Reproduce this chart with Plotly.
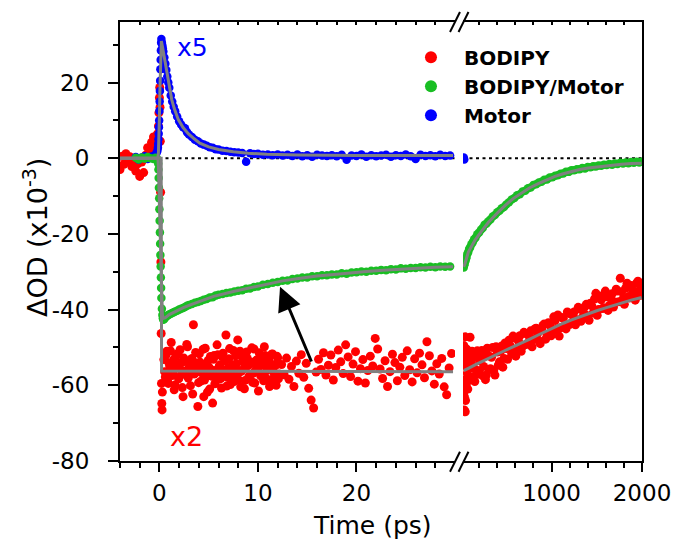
import plotly.graph_objects as go

# ---------------- transient absorption kinetics ----------------
# short-delay window (ps), shared by Motor and BODIPY/Motor
t_short = [-2.4, -2.1, -1.8, -1.5, -1.2, -0.9, -0.6, -0.4, -0.3, -0.2,
           -0.15, -0.125, -0.1, -0.075, -0.05, -0.025, 0.0, 0.025, 0.05, 0.075,
           0.1, 0.125, 0.15, 0.175, 0.2, 0.25, 0.3, 0.35, 0.4, 0.5,
           0.6, 0.7, 0.8, 0.9, 1.0, 1.15, 1.3, 1.45, 1.6, 1.8,
           2.0, 2.2, 2.4, 2.6, 2.8, 3.0, 3.3, 3.6, 3.9, 4.2,
           4.5, 4.8, 5.1, 5.4, 5.7, 6.0, 6.4, 6.8, 7.2, 7.6,
           8.0, 8.4, 8.8, 9.2, 9.6, 10.0, 10.5, 11.0, 11.5, 12.0,
           12.5, 13.0, 13.5, 14.0, 14.5, 15.0, 15.5, 16.0, 16.5, 17.0,
           17.5, 18.0, 18.5, 19.0, 19.5, 20.0, 20.5, 21.0, 21.5, 22.0,
           22.5, 23.0, 23.5, 24.0, 24.5, 25.0, 25.5, 26.0, 26.5, 27.0,
           27.5, 28.0, 28.5, 29.0, 29.5]

motor_short = [0.3, -0.4, 0.2, 0.5, -0.2, 0.4, 0.6, 0.9, 1.3, 2.0,
               2.8, 3.8, 5.0, 6.5, 8.2, 10.0, 12.5, 15.0, 17.8, 20.5,
               23.5, 26.0, 28.5, 30.5, 31.5, 30.6, 29.8, 29.0, 28.2, 26.6,
               25.0, 23.3, 21.6, 20.0, 18.6, 16.6, 15.0, 13.6, 12.4, 11.0,
               9.8, 8.9, 8.2, 7.9, 6.9, 6.3, 5.6, 4.9, 4.5, 3.9,
               3.6, 3.3, 2.9, 2.8, 2.4, 2.3, 2.0, 1.9, 1.7, 1.6,
               1.5, 1.4, -0.9, 1.3, 1.1, 1.2, 0.9, 1.0, 0.8, 1.0,
               0.7, 0.9, 0.6, 1.0, 0.5, 0.8, 0.4, 0.9, 0.7, 0.6,
               0.8, 0.5, 0.9, -0.4, 0.7, 0.6, 1.0, 0.4, 0.8, 0.5,
               0.7, 0.9, 0.4, 0.8, 0.6, 1.0, 0.5, -0.2, 0.9, 0.6,
               0.8, 0.5, 0.9, 0.6, 0.7]

bodipy_motor_short = [0.1, -0.3, 0.2, -0.1, 0.3, 0.0, -0.2, 0.1, -0.1, -0.3,
                      -0.6, -1.4, -3.0, -5.2, -7.8, -10.6, -13.5, -16.5, -19.6, -22.6,
                      -25.6, -28.6, -31.5, -34.3, -36.9, -39.8, -41.4, -42.3, -42.7, -42.5,
                      -42.0, -41.8, -41.6, -41.4, -41.3, -41.1, -40.9, -40.7, -40.5, -40.3,
                      -40.0, -39.8, -39.6, -39.3, -39.0, -38.8, -38.5, -38.2, -38.0, -37.7,
                      -37.4, -37.2, -36.8, -36.7, -36.3, -36.1, -35.9, -35.6, -35.5, -35.2,
                      -35.0, -34.9, -34.5, -34.4, -34.0, -33.9, -33.4, -33.2, -32.9, -32.7,
                      -32.4, -32.3, -31.9, -31.8, -31.5, -31.5, -31.2, -31.2, -30.9, -30.9,
                      -30.7, -30.7, -30.4, -30.5, -30.2, -30.1, -29.9, -30.0, -29.7, -29.7,
                      -29.5, -29.6, -29.3, -29.4, -29.1, -29.2, -29.0, -29.0, -28.8, -28.9,
                      -28.7, -28.8, -28.6, -28.7, -28.6]

# BODIPY alone (x2), sampled on its own, denser delay grid
t_bodipy_short = [-4.0, -3.8, -3.6, -3.4, -3.2, -3.0, -2.8, -2.6, -2.4, -2.2,
                  -2.0, -1.8, -1.6, -1.4, -1.2, -1.0, -0.8, -0.6, -0.4, -0.2,
                  -0.1, -0.05, 0.0, 0.03, 0.06, 0.09, 0.12, 0.15, 0.18, 0.21,
                  0.24, 0.27, 0.3,
                  0.45, 0.6, 0.75, 0.9, 1.05, 1.2, 1.35, 1.5, 1.65, 1.8,
                  1.95, 2.1, 2.25, 2.4, 2.55, 2.7, 2.85, 3.0, 3.15, 3.3,
                  3.45, 3.6, 3.75, 3.9, 4.05, 4.2, 4.35, 4.5, 4.65, 4.8,
                  4.95, 5.1, 5.25, 5.4, 5.55, 5.7, 5.85, 6.0, 6.15, 6.3,
                  6.45, 6.6, 6.75, 6.9, 7.05, 7.2, 7.35, 7.5, 7.65, 7.8,
                  7.95, 8.1, 8.25, 8.4, 8.55, 8.7, 8.85, 9.0, 9.15, 9.3,
                  9.45, 9.6, 9.75, 9.9, 10.05, 10.2, 10.35, 10.5, 10.65, 10.8,
                  10.95, 11.1, 11.25, 11.4, 11.55, 11.7, 11.85, 12.0, 12.15,
                  12.4, 12.65, 12.9, 13.15, 13.4, 13.65, 13.9, 14.15, 14.4, 14.65,
                  14.9, 15.15, 15.4, 15.65, 15.9, 16.15, 16.4, 16.65, 16.9, 17.15,
                  17.4, 17.65, 17.9, 18.15, 18.4, 18.65, 18.9, 19.15, 19.4, 19.65,
                  19.9, 20.15, 20.4, 20.65, 20.9, 21.15, 21.4, 21.65, 21.9, 22.15,
                  22.4, 22.65, 22.9, 23.15, 23.4, 23.65, 23.9, 24.15, 24.4, 24.65,
                  24.9, 25.15, 25.4, 25.65, 25.9, 26.15, 26.4, 26.65, 26.9, 27.15,
                  27.4, 27.65, 27.9, 28.15, 28.4, 28.65, 28.9, 29.15, 29.4, 29.65,
                  0.525, 0.675, 0.825, 0.975, 1.125, 1.275, 1.425, 1.575, 1.725, 1.875,
                  2.025, 2.175, 2.325, 2.475, 2.625, 2.775, 2.925, 3.075, 3.225, 3.375,
                  3.525, 3.675, 3.825, 3.975, 4.125, 4.275, 4.425, 4.575, 4.725, 4.875,
                  5.025, 5.175, 5.325, 5.475, 5.625, 5.775, 5.925, 6.075, 6.225, 6.375,
                  6.525, 6.675, 6.825, 6.975, 7.125, 7.275, 7.425, 7.575, 7.725, 7.875,
                  8.025, 8.175, 8.325, 8.475, 8.625, 8.775, 8.925, 9.075, 9.225, 9.375,
                  9.525, 9.675, 9.825, 9.975, 10.125, 10.275, 10.425, 10.575, 10.725, 10.875,
                  11.025, 11.175, 11.325, 11.475, 11.625, 11.775, 11.925, 12.075]

bodipy_short = [-3.0, 0.5, -1.6, 1.2, -0.8, 0.4, -2.2, -0.3, -3.4, -1.5,
                -4.8, -1.0, -3.8, 0.8, 2.8, 1.6, 4.2, 5.6, 3.1, 6.4,
                8.5, 12.0, 16.0, 18.7, 13.5, 4.5, -9.0, -27.4, -46.3, -59.5,
                -64.8, -66.5, -61.8,
                -53.2, -57.8, -51.0, -59.5, -55.1, -48.7, -56.6, -61.2, -52.4, -54.9,
                -58.3, -50.6, -56.0, -63.0, -53.7, -57.2, -49.8, -55.5, -60.1, -52.9,
                -44.0, -56.8, -54.1, -65.6, -51.7, -58.9, -55.3, -63.0, -50.2, -57.5,
                -53.4, -61.0, -55.9, -64.7, -52.1, -56.9, -49.3, -58.4, -54.6, -60.7,
                -51.5, -56.2, -46.7, -57.9, -53.0, -59.8, -55.0, -50.8, -57.1, -54.3,
                -48.0, -56.5, -60.4, -52.6, -55.7, -58.7, -51.2, -54.8, -57.6, -53.9,
                -59.2, -50.4, -56.1, -55.2, -61.5, -52.3, -57.3, -54.0, -49.8, -58.0,
                -55.6, -53.1, -59.0, -51.8, -56.4, -54.5, -60.0, -52.7, -57.0,
                -54.5, -57.2, -52.8, -58.4, -55.0, -60.3, -53.6, -56.8, -51.9, -57.9,
                -54.2, -60.8, -63.9, -66.0, -56.5, -53.1, -55.8, -51.4, -57.3, -54.7,
                -52.0, -58.6, -55.3, -50.7, -53.8, -56.9, -49.3, -52.5, -57.7, -54.4,
                -51.1, -58.9, -55.6, -53.2, -59.4, -56.1, -52.3, -54.9, -47.6, -50.4,
                -55.7, -58.2, -53.5, -60.3, -56.4, -51.8, -54.0, -58.8, -55.2, -52.6,
                -57.4, -50.9, -55.9, -59.1, -53.0, -56.7, -51.5, -54.6, -58.0, -48.5,
                -52.2, -56.2, -59.7, -54.3, -57.0, -52.9, -60.4, -62.5, -55.4, -51.6,
                -56.4, -52.0, -58.9, -54.2, -50.9, -57.4, -53.3, -59.9, -55.5, -51.6,
                -57.8, -54.0, -60.6, -52.8, -56.2, -49.2, -58.1, -55.0, -53.2, -62.3,
                -57.0, -51.3, -55.8, -59.3, -53.9, -56.7, -50.5, -58.6, -54.4, -61.8,
                -55.2, -52.4, -57.6, -53.1, -59.6, -56.0, -51.9, -54.9, -58.2, -52.5,
                -56.9, -53.6, -60.2, -55.4, -50.3, -57.2, -54.7, -59.0, -52.2, -55.9,
                -58.5, -51.0, -56.3, -53.8, -60.9, -55.1, -52.9, -57.7, -54.1, -50.1,
                -56.8, -59.4, -53.4, -55.7, -51.4, -57.5, -54.6, -58.8, -52.1, -56.0,
                -53.7, -60.3, -55.3, -51.7, -57.9, -54.8, -52.3, -58.3]

# long-delay window (ps)
t_long = [30, 35, 40, 45, 50, 55, 60, 70, 80, 90,
          100, 115, 130, 145, 160, 180, 200, 220, 240, 260,
          280, 300, 325, 350, 375, 400, 425, 450, 475, 500,
          530, 560, 590, 620, 650, 680, 710, 740, 770, 800,
          830, 860, 890, 920, 950, 980, 1010, 1040, 1070, 1100,
          1130, 1160, 1190, 1220, 1250, 1280, 1310, 1340, 1370, 1400,
          1430, 1460, 1490, 1520, 1550, 1580, 1610, 1640, 1670, 1700,
          1730, 1760, 1790, 1820, 1850, 1880, 1910, 1940, 1970, 2000]

bodipy_motor_long = [-28.9, -28.3, -27.9, -27.3, -27.0, -26.4, -26.2, -25.3, -24.8, -24.0,
                     -23.6, -22.7, -22.2, -21.4, -21.0, -20.1, -19.6, -18.9, -18.4, -17.6,
                     -17.3, -16.7, -16.2, -15.4, -15.0, -14.3, -13.9, -13.2, -12.9, -12.2,
                     -11.6, -10.9, -10.5, -9.8, -9.5, -8.8, -8.6, -7.9, -7.7, -7.1,
                     -6.9, -6.4, -6.2, -5.7, -5.6, -5.1, -5.0, -4.6, -4.5, -4.1,
                     -4.0, -3.6, -3.6, -3.2, -3.2, -2.9, -2.9, -2.6, -2.7, -2.3,
                     -2.4, -2.1, -2.2, -1.9, -2.0, -1.7, -1.8, -1.5, -1.7, -1.4,
                     -1.5, -1.2, -1.4, -1.1, -1.3, -1.0, -1.2, -0.9, -1.1, -0.9]

bodipy_long = [-62.0, -66.5, -58.5, -47.2, -64.0, -53.5, -60.5, -56.8, -51.5, -58.7,
               -47.3, -54.0, -57.9, -52.6, -55.8, -50.9, -56.3, -53.0, -57.5, -51.8,
               -57.3, -52.1, -55.6, -50.0, -57.3, -51.2, -53.8, -49.6, -52.9, -50.3,
               -48.1, -51.6, -47.5, -50.8, -46.9, -49.7, -46.3, -48.8, -45.6, -47.9,
               -44.9, -48.2, -45.3, -43.8, -46.6, -44.1, -45.8, -42.9, -41.4, -44.8,
               -42.3, -45.1, -41.0, -43.5, -40.6, -42.7, -39.8, -42.1, -39.2, -41.6,
               -38.3, -40.9, -35.7, -40.0, -37.4, -39.5, -36.6, -38.9, -35.8, -38.0,
               -35.1, -31.7, -37.2, -34.3, -36.5, -33.6, -35.8, -33.0, -35.0, -33.4]

# second BODIPY scan on the long window, interleaved delays
t_long_b = [32, 37, 42, 47, 52, 57, 65, 75, 85, 95,
            107, 122, 137, 152, 170, 190, 210, 230, 250, 270,
            290, 312, 337, 362, 387, 412, 437, 462, 487, 515,
            545, 575, 605, 635, 665, 695, 725, 755, 785, 815,
            845, 875, 905, 935, 965, 995, 1025, 1055, 1085, 1115,
            1145, 1175, 1205, 1235, 1265, 1295, 1325, 1355, 1385, 1415,
            1445, 1475, 1505, 1535, 1565, 1595, 1625, 1655, 1685, 1715,
            1745, 1775, 1805, 1835, 1865, 1895, 1925, 1955, 1985]

bodipy_long_b = [-49.5, -63.0, -52.0, -67.0, -55.0, -59.5, -50.5, -61.0, -54.5, -52.5,
                 -58.0, -51.0, -55.5, -59.0, -51.8, -57.0, -53.5, -50.8, -55.0, -58.5,
                 -50.2, -55.8, -52.6, -56.2, -49.8, -54.7, -51.0, -55.2, -48.8, -53.1,
                 -49.6, -47.0, -52.3, -48.3, -51.0, -46.0, -49.2, -47.2, -49.8, -45.1,
                 -46.4, -49.0, -44.2, -47.8, -43.5, -46.9, -41.9, -45.2, -47.0, -42.1,
                 -44.3, -40.6, -43.9, -41.5, -44.0, -39.4, -43.1, -40.8, -38.6, -42.8,
                 -39.0, -37.2, -41.5, -36.4, -39.7, -35.1, -40.2, -37.0, -39.3, -34.6,
                 -37.9, -35.3, -38.6, -33.0, -36.9, -34.8, -37.5, -32.5, -36.2]

t_motor_long = [30, 36]
motor_long = [0.2, -0.3]

# ---------------- global fits ----------------
fit_motor_t = [-4, -0.15, -0.1, -0.05, 0.0, 0.05, 0.1, 0.15, 0.2, 0.3, 0.5, 0.74, 1.0,
               1.25, 1.5, 1.92, 2.4, 2.93, 3.5, 4.1, 5.0, 6.0, 7.5, 9.0, 10.9, 14.0, 20.0, 29.8]
fit_motor = [0.0, 0.0, 1.5, 5.0, 11.0, 18.0, 24.5, 29.5, 31.0, 29.6, 26.6, 23.0, 18.8,
             15.5, 13.2, 10.2, 8.1, 6.5, 5.2, 4.0, 3.0, 2.3, 1.7, 1.3, 1.05, 0.85, 0.75, 0.7]

fit_bm_t = [-4, -0.15, -0.1, -0.05, 0.0, 0.05, 0.1, 0.15, 0.2, 0.3, 0.4, 0.6, 1.0, 1.5,
            2.43, 3.2, 4.1, 5.5, 7.5, 9.0, 10.9, 12.5, 14.3, 16.0, 17.7, 19.4, 21.0,
            22.7, 24.4, 26.1, 28.0, 29.8]
fit_bm = [0.0, 0.0, -2.5, -8.0, -14.0, -20.5, -27.0, -32.5, -37.5, -41.3, -42.3, -42.1,
          -41.3, -40.6, -39.5, -38.7, -37.8, -36.5, -35.2, -34.3, -33.2, -32.4, -31.7,
          -31.1, -30.7, -30.2, -29.9, -29.6, -29.3, -29.0, -28.8, -28.7]

fit_b_t = [-4, 0.18, 0.22, 29.8]
fit_b = [0.0, 0.0, -56.2, -56.4]

fit_long_t = [30, 44, 81, 155, 229, 301, 400, 486, 580, 670, 760, 853, 950, 1038,
              1130, 1222, 1310, 1405, 1500, 1590, 1680, 1774, 1880, 1995]
fit_bm_long = [-28.7, -27.8, -24.8, -21.6, -19.2, -17.0, -14.5, -12.5, -10.6, -9.1,
               -7.8, -6.7, -5.6, -4.8, -4.1, -3.5, -3.0, -2.6, -2.3, -2.0, -1.8,
               -1.6, -1.4, -1.3]
fit_b_long = [-56.1, -55.9, -55.5, -54.6, -53.7, -52.9, -51.8, -50.8, -49.8, -48.9,
              -47.8, -46.7, -45.6, -44.5, -43.6, -42.7, -41.9, -41.0, -40.3, -39.6,
              -38.9, -38.3, -37.5, -36.8]

# ---------------- axes labels / ticks ----------------
x_short_ticks = [0, 10, 20]
x_short_labels = ["0", "10", "20"]
x_short_minor = [-4, -2, 2, 4, 6, 8, 12, 14, 16, 18, 22, 24, 26, 28]
x_long_ticks = [1000, 2000]
x_long_labels = ["1000", "2000"]
x_long_minor = [200, 400, 600, 800, 1200, 1400, 1600, 1800]
y_ticks = [-80, -60, -40, -20, 0, 20]
y_labels = ["-80", "-60", "-40", "-20", "0", "20"]
y_minor = [-70, -50, -30, -10, 10, 30]

series = ["BODIPY", "BODIPY/Motor", "Motor"]
colors = {"BODIPY": "#ff0000", "BODIPY/Motor": "#19be23", "Motor": "#0000ff"}

FONT = "DejaVu Sans"
FIT_GRAY = "#808080"
X_SHORT_RANGE = [-4, 30]
X_LONG_RANGE = [22, 2000]
Y_RANGE = [-80, 36]

fig = go.Figure()


def dots(x, y, name, ax, size=8):
    fig.add_trace(go.Scatter(x=x, y=y, mode="markers", xaxis=ax, yaxis="y",
                             marker=dict(color=colors[name], size=size, line=dict(width=0)),
                             showlegend=False, hoverinfo="skip"))


def fit(x, y, ax):
    fig.add_trace(go.Scatter(x=x, y=y, mode="lines", xaxis=ax, yaxis="y",
                             line=dict(color=FIT_GRAY, width=3),
                             showlegend=False, hoverinfo="skip"))


# measured points
dots(t_bodipy_short, bodipy_short, "BODIPY", "x", 9)
dots(t_long + t_long_b, bodipy_long + bodipy_long_b, "BODIPY", "x2", 9)
dots(t_short, motor_short, "Motor", "x", 8.5)
dots(t_motor_long, motor_long, "Motor", "x2", 8.5)
dots(t_short, bodipy_motor_short, "BODIPY/Motor", "x", 8.5)
dots(t_long, bodipy_motor_long, "BODIPY/Motor", "x2", 8.5)

# fitted curves
fit(fit_b_t, fit_b, "x")
fit(fit_long_t, fit_b_long, "x2")
fit(fit_bm_t, fit_bm, "x")
fit(fit_long_t, fit_bm_long, "x2")
fit(fit_motor_t, fit_motor, "x")

# legend entries
for name in series:
    fig.add_trace(go.Scatter(x=[None], y=[None], mode="markers", name="<b>%s</b>" % name,
                             xaxis="x", yaxis="y",
                             marker=dict(color=colors[name], size=12)))

# empty traces so the frame axes get drawn
fig.add_trace(go.Scatter(x=[None], y=[None], xaxis="x3", yaxis="y", showlegend=False))
fig.add_trace(go.Scatter(x=[None], y=[None], xaxis="x4", yaxis="y", showlegend=False))
fig.add_trace(go.Scatter(x=[None], y=[None], xaxis="x2", yaxis="y2", showlegend=False))

tickfont = dict(family=FONT, size=23, color="black")
base = dict(showgrid=False, zeroline=False, showline=True, linecolor="black",
            linewidth=2, tickcolor="black", tickwidth=2, automargin=False)

fig.update_layout(
    width=676, height=539,
    margin=dict(l=120, r=34, t=22, b=78, autoexpand=False),
    paper_bgcolor="white", plot_bgcolor="white",
    xaxis=dict(**base, domain=[0, 0.6418], range=X_SHORT_RANGE, anchor="y",
               ticks="outside", ticklen=9, tickvals=x_short_ticks, ticktext=x_short_labels,
               tickfont=tickfont, ticklabelstandoff=1,
               minor=dict(tickvals=x_short_minor, ticks="outside", ticklen=5,
                          tickwidth=2, tickcolor="black")),
    xaxis2=dict(**base, domain=[0.6571, 1], range=X_LONG_RANGE, anchor="y",
                ticks="outside", ticklen=9, tickvals=x_long_ticks, ticktext=x_long_labels,
                tickfont=tickfont, ticklabelstandoff=1,
                minor=dict(tickvals=x_long_minor, ticks="outside", ticklen=5,
                           tickwidth=2, tickcolor="black")),
    xaxis3=dict(**base, overlaying="x", side="top", anchor="y", range=X_SHORT_RANGE,
                ticks="inside", ticklen=3, tickvals=x_short_minor + x_short_ticks,
                showticklabels=False),
    xaxis4=dict(**base, overlaying="x2", side="top", anchor="y", range=X_LONG_RANGE,
                ticks="inside", ticklen=3, tickvals=x_long_minor + [1000],
                showticklabels=False),
    yaxis=dict(**base, domain=[0, 1], range=Y_RANGE, anchor="x",
               ticks="outside", ticklen=10, tickvals=y_ticks, ticktext=y_labels,
               tickfont=tickfont, ticklabelstandoff=14,
               minor=dict(tickvals=y_minor, ticks="outside", ticklen=5,
                          tickwidth=2, tickcolor="black")),
    yaxis2=dict(**base, overlaying="y", anchor="x2", side="right", range=Y_RANGE,
                ticks="", showticklabels=False),
    showlegend=True,
    legend=dict(x=0.5325, y=0.964, xanchor="left", yanchor="top",
                bgcolor="rgba(0,0,0,0)", itemwidth=56,
                font=dict(family=FONT, size=20, color="black")),
)

# dotted zero reference
for ax, rng in (("x", X_SHORT_RANGE), ("x2", X_LONG_RANGE)):
    fig.add_shape(type="line", xref=ax, yref="y", x0=rng[0], x1=rng[1], y0=0, y1=0,
                  line=dict(color="black", width=2, dash="3px,3.5px"), layer="below")

# axis-break marks on the bottom and top frame
for y0, y1 in ((-0.0244, 0.0212), (0.9772, 1.0228)):
    for x0, x1 in ((0.6322, 0.6513), (0.6485, 0.6676)):
        fig.add_shape(type="line", xref="paper", yref="paper", x0=x0, x1=x1, y0=y0, y1=y1,
                      line=dict(color="black", width=2))

fig.add_annotation(x=1.6, y=29.3, xref="x", yref="y", text="x5", showarrow=False,
                   xanchor="left", yanchor="middle",
                   font=dict(family=FONT, size=25, color="#0000ff"))
fig.add_annotation(x=0.9, y=-73.6, xref="x", yref="y", text="x2", showarrow=False,
                   xanchor="left", yanchor="middle",
                   font=dict(family=FONT, size=27, color="#ff0000"))
fig.add_annotation(x=12.24, y=-33.96, ax=15.49, ay=-54.1, xref="x", yref="y",
                   axref="x", ayref="y", text="", showarrow=True, arrowhead=2,
                   arrowsize=1.6, arrowwidth=3, arrowcolor="black")

fig.add_annotation(x=0.4828, y=-0.146, xref="paper", yref="paper", text="Time (ps)",
                   showarrow=False, xanchor="center", yanchor="middle",
                   font=dict(family=FONT, size=25, color="black"))
fig.add_annotation(x=-0.163, y=0.51, xref="paper", yref="paper",
                   text="ΔOD (x10<sup>-3</sup>)", textangle=-90, showarrow=False,
                   xanchor="center", yanchor="middle",
                   font=dict(family=FONT, size=27, color="black"))

fig.write_html("out.html")
